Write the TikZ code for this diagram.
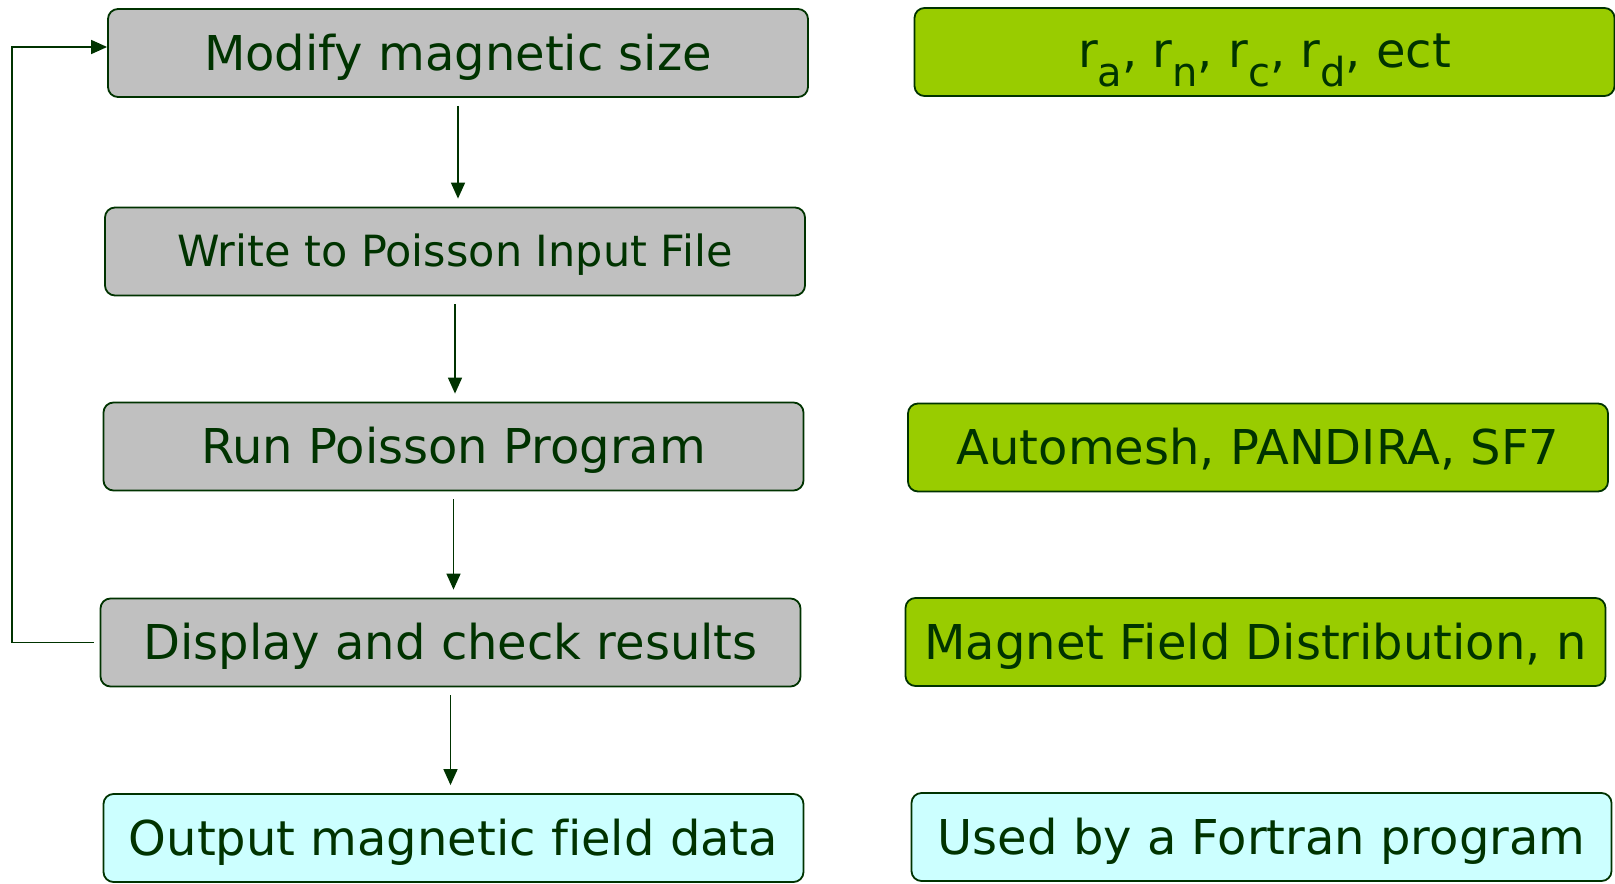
\documentclass[tikz,border=0pt]{standalone}
\usepackage{fontspec}
\setmainfont[Ligatures=NoCommon]{DejaVu Sans}
\usetikzlibrary{arrows.meta}
\definecolor{stagegray}{HTML}{C0C0C0}
\definecolor{toolgreen}{HTML}{99CC00}
\definecolor{outcyan}{HTML}{CCFFFF}
\definecolor{inkgreen}{HTML}{003300}
\newcommand\rsub[1]{r\raisebox{-0.38em}{\fontsize{20}{24}\selectfont #1}}
\begin{document}
\begin{tikzpicture}[
    x=0.5pt, y=-0.5pt,
    box/.style={%
      draw=inkgreen,
      line width=0.9pt,
      rounded corners=5pt,
      minimum width=350pt,
      minimum height=44pt,
      inner sep=0pt,
      text depth=0.1em,
      text=inkgreen,
      font=\fontsize{24}{28}\selectfont,
    },
    stage/.style={box, fill=stagegray},
    tool/.style={box, fill=toolgreen},
    outbox/.style={box, fill=outcyan},
    flow/.style={draw=inkgreen, line width=0.8pt, -{Triangle[width=7pt,length=8pt]}},
  ]
    \useasboundingbox (0,0) rectangle (1615,883);

    \node [stage] (B1) at (458,53) {Modify magnetic size};
    \node [stage, font=\fontsize{21.5}{26}\selectfont] (B2) at (455,251.5) {Write to Poisson Input File};
    \node [stage] (B3) at (453.5,446.5) {Run Poisson Program};
    \node [stage] (B4) at (450.5,642.5) {Display and check results};
    \node [outbox] (B5) at (453.5,838) {Output magnetic field data};

    \node [tool] (G1) at (1264.5,52) {\rsub{a}, \rsub{n}, \rsub{c}, \rsub{d}, ect};
    \node [tool] (G3) at (1258,447.5) {Automesh, PANDIRA, SF7};
    \node [tool] (G4) at (1255.5,642) {Magnet Field Distribution, n};
    \node [outbox] (G5) at (1261.5,837) {Used by a Fortran program};

    \draw [flow, shorten <=4pt, shorten >=4pt] (B1.south) -- (B1.south |- B2.north);
    \draw [flow, shorten <=4pt, shorten >=4pt] (B2.south) -- (B2.south |- B3.north);
    \draw [flow, shorten <=4pt, shorten >=4pt] (B3.south) -- (B3.south |- B4.north);
    \draw [flow, shorten <=4pt, shorten >=4pt] (B4.south) -- (B4.south |- B5.north);

    % feedback loop
    \draw [flow, shorten <=3pt] (B4.west) -- (12,642.5) |- ([yshift=3pt]B1.west);
\end{tikzpicture}
\end{document}
